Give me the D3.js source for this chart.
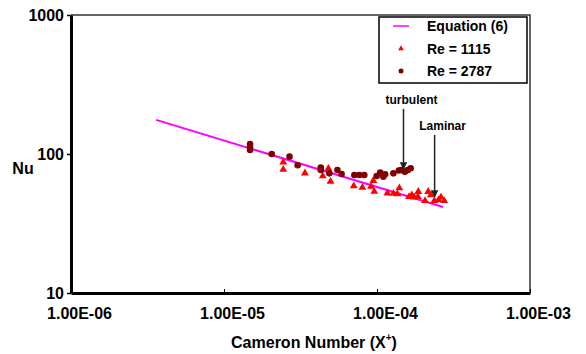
<!DOCTYPE html>
<html>
<head>
<meta charset="utf-8">
<script src="https://cdn.jsdelivr.net/npm/d3@7"></script>
<style>
body{margin:0;background:#fff;}
text{font-family:"Liberation Sans",Arial,sans-serif;font-weight:bold;fill:#000;}
</style>
</head>
<body>
<script>
// Equation (6) line, two end points
var eqX = [3.6e-6, 2.7e-4];
var eqNu = [176, 41.6];

// Re = 1115 (triangles)
var re1115X = [2.44e-5,2.44e-5,3.38e-5,4.42e-5,4.81e-5,4.97e-5,7.05e-5,8.02e-5,9.14e-5,9.46e-5,
  9.6e-5,1.17e-4,1.28e-4,1.36e-4,1.4e-4,1.62e-4,1.69e-4,1.75e-4,1.86e-4,1.85e-4,
  2.06e-4,2.16e-4,2.25e-4,2.37e-4,2.52e-4,2.62e-4,2.75e-4];
var re1115Nu = [87.3,77.3,72.8,69.5,78.6,63.4,58.9,57.4,58.4,64.3,
  53.7,52.2,52.0,51.5,56.9,49.3,50.7,48.8,53.6,49.3,
  46.1,53.6,50.7,46.1,46.7,48.8,46.1];

// Re = 2787 (circles)
var re2787X = [1.48e-5,1.48e-5,1.48e-5,2.05e-5,2.68e-5,3.03e-5,4.29e-5,4.29e-5,4.88e-5,5.51e-5,
  5.87e-5,7.11e-5,7.66e-5,8.26e-5,9.95e-5,1.05e-4,1.13e-4,1.1e-4,1.28e-4,1.39e-4,
  1.44e-4,1.52e-4,1.59e-4,1.66e-4];
var re2787Nu = [118,112,107,100,95.7,83,80,76.7,72.6,76.7,
  71.8,70.6,70.6,70.6,69.5,73.6,71.4,68.7,72.6,76.1,
  76.7,74.6,76.7,78.9];

var xTicks = [1e-6, 1e-5, 1e-4, 1e-3];
var yTicks = [10, 100, 1000];
var legendItems = ["Equation (6)", "Re = 1115", "Re = 2787"];

// annotations: label, x, top Nu, arrow tip Nu
var notes = [
  {label: "turbulent", x: 1.49e-4, top: 211, tip: 78},
  {label: "Laminar", x: 2.38e-4, top: 137, tip: 49}
];

var W = 586, H = 354;
var svg = d3.select("body").append("svg").attr("width", W).attr("height", H);

var x = d3.scaleLog().domain([1e-6, 1e-3]).range([71, 530]);
var y = d3.scaleLog().domain([10, 1000]).range([293, 15]);

svg.append("defs").append("marker")
  .attr("id", "arr").attr("viewBox", "0 0 10 10").attr("refX", 9).attr("refY", 5)
  .attr("markerWidth", 5).attr("markerHeight", 5).attr("orient", "auto")
  .append("path").attr("d", "M0,0L10,5L0,10z").attr("fill", "#222");

// top and right frame
svg.append("path")
  .attr("d", "M" + x(1e-6) + "," + y(1000) + "H" + x(1e-3) + "V" + y(10))
  .attr("fill", "none").attr("stroke", "#333").attr("stroke-width", 1.5);

function fmtX(d){
  var e = Math.round(Math.log10(d));
  return "1.00E" + (e < 0 ? "-" : "+") + (Math.abs(e) < 10 ? "0" : "") + Math.abs(e);
}

var gx = svg.append("g").attr("transform", "translate(0," + y(10) + ")")
  .call(d3.axisBottom(x).tickValues(xTicks).tickFormat(fmtX).tickSizeInner(-4).tickSizeOuter(0).tickPadding(12));
gx.select(".domain").attr("stroke-width", 3).attr("stroke", "#000");
gx.selectAll(".tick line").attr("stroke-width", 1);
gx.selectAll(".tick text").attr("font-size", 16).attr("dx", 8).attr("dy", "0.9em");

var gy = svg.append("g").attr("transform", "translate(" + x(1e-6) + ",0)")
  .call(d3.axisLeft(y).tickValues(yTicks).tickFormat(d3.format("d")).tickSizeInner(4).tickSizeOuter(0).tickPadding(3));
gy.select(".domain").attr("stroke-width", 3).attr("stroke", "#000");
gy.selectAll(".tick line").attr("stroke-width", 1.5);
gy.selectAll(".tick text").attr("font-size", 16);

svg.append("text").attr("x", 23).attr("y", 174).attr("text-anchor", "middle")
  .attr("font-size", 16).text("Nu");

var title = svg.append("text").attr("x", 314).attr("y", 348).attr("text-anchor", "middle")
  .attr("font-size", 16);
title.append("tspan").text("Cameron Number (X");
title.append("tspan").attr("font-size", 10).attr("dy", -7).text("+");
title.append("tspan").attr("dy", 7).text(")");

// equation line
var eqData = eqX.map(function(d, i){ return [d, eqNu[i]]; });
svg.append("path")
  .datum(eqData)
  .attr("d", d3.line().x(function(d){ return x(d[0]); }).y(function(d){ return y(d[1]); }))
  .attr("fill", "none").attr("stroke", "#ff00ff").attr("stroke-width", 2);

var tri = d3.symbol().type(d3.symbolTriangle).size(27);

svg.append("g").selectAll("path")
  .data(re1115X.map(function(d, i){ return [d, re1115Nu[i]]; }))
  .join("path")
  .attr("d", tri)
  .attr("transform", function(d){ return "translate(" + x(d[0]) + "," + y(d[1]) + ")"; })
  .attr("fill", "#ff0000");

svg.append("g").selectAll("circle")
  .data(re2787X.map(function(d, i){ return [d, re2787Nu[i]]; }))
  .join("circle")
  .attr("cx", function(d){ return x(d[0]); })
  .attr("cy", function(d){ return y(d[1]); })
  .attr("r", 3.3)
  .attr("fill", "#800000");

// annotations
notes.forEach(function(n){
  svg.append("line")
    .attr("x1", x(n.x)).attr("x2", x(n.x))
    .attr("y1", y(n.top)).attr("y2", y(n.tip))
    .attr("stroke", "#222").attr("stroke-width", 1.5)
    .attr("marker-end", "url(#arr)");
  svg.append("text").attr("x", x(n.x) + 8).attr("y", y(n.top) - 5)
    .attr("text-anchor", "middle").attr("font-size", 12).text(n.label);
});

// legend
var lg = svg.append("g").attr("transform", "translate(379,17)");
lg.append("rect").attr("width", 148).attr("height", 66)
  .attr("fill", "#fff").attr("stroke", "#000").attr("stroke-width", 1.5);
var rows = lg.selectAll("g.row").data(legendItems).join("g")
  .attr("transform", function(d, i){ return "translate(0," + (9 + i * 22.5) + ")"; });
rows.append("text").attr("x", 48).attr("y", 5).attr("font-size", 14).text(function(d){ return d; });
rows.each(function(d, i){
  var g = d3.select(this);
  if (i === 0) g.append("line").attr("x1", 14).attr("x2", 30).attr("stroke", "#ff00ff").attr("stroke-width", 1.5);
  if (i === 1) g.append("path").attr("d", d3.symbol().type(d3.symbolTriangle).size(14)).attr("transform", "translate(22,0)").attr("fill", "#ff0000");
  if (i === 2) g.append("circle").attr("cx", 22).attr("r", 2.5).attr("fill", "#800000");
});
</script>
</body>
</html>
